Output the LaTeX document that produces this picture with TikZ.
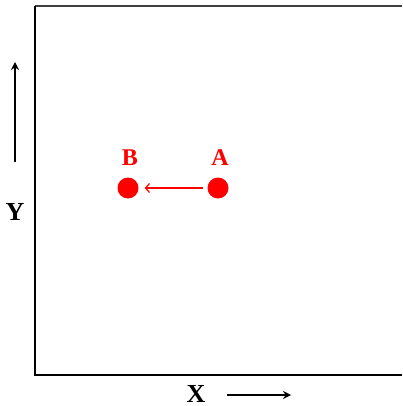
\documentclass[tikz,border=0pt]{standalone}
\usepackage{fontspec}
\setmainfont{Liberation Serif}
\usetikzlibrary{arrows.meta, positioning, calc}

\begin{document}
\begin{tikzpicture}[
    x=1pt, y=-1pt,
    point/.style={circle, fill=red, draw=none, minimum size=21pt, inner sep=0pt},
    plabel/.style={font=\fontsize{24}{24}\selectfont\bfseries, text=red, inner sep=0pt, anchor=base},
    axlabel/.style={font=\fontsize{26}{26}\selectfont\bfseries, inner sep=0pt, anchor=base}
]
    \useasboundingbox (0,0) rectangle (402,406);
    % frame
    \coordinate (tl) at (35,6);
    \coordinate (bl) at (35,375);
    \draw[line width=1.5pt, black!75] (tl) -- (402,6);
    \draw[line width=1.3pt] (tl) -- (bl);
    \draw[line width=2pt] ([xshift=-0.65pt]bl) -- (402,375);

    % points
    \node (ptA) [point] at (218,188) {};
    \node (ptB) [point] at (128,188) {};
    \node (labA) [plabel] at (220,165) {A};
    \node (labB) [plabel] at (130,165) {B};
    \draw[-{Straight Barb[length=4pt,width=9pt]}, red, line width=1.2pt, shorten <=4pt, shorten >=6pt] (ptA) -- (ptB);

    % axes
    \node (xlab) [axlabel] at (196,402) {X};
    \node (ylab) [axlabel] at (15,220) {Y};
    \coordinate (x0) at (227,395);
    \coordinate (x1) at (291,395);
    \coordinate (y0) at (15,162);
    \coordinate (y1) at (15,62);
    \draw[-{Stealth[length=8pt,width=8pt]}, line width=2pt] (x0) -- (x1);
    \draw[-{Stealth[length=8pt,width=8pt]}, line width=2pt] (y0) -- (y1);
\end{tikzpicture}
\end{document}
